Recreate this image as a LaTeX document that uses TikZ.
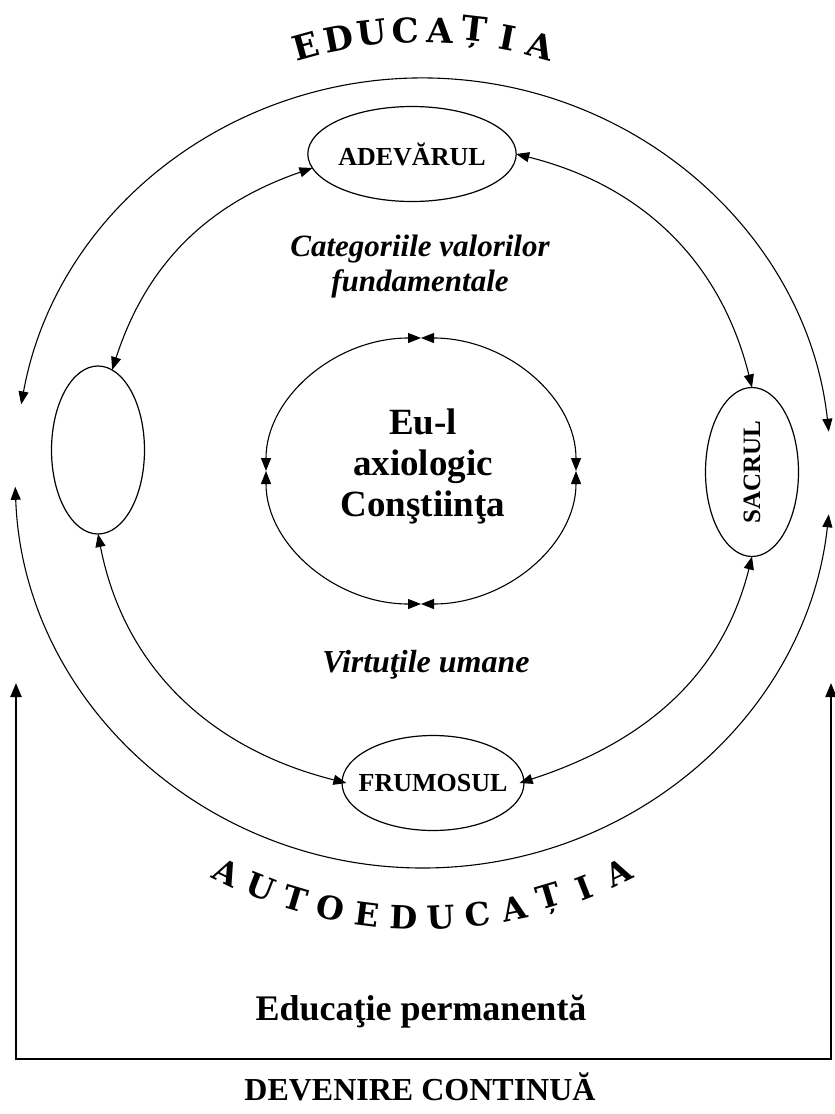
\documentclass[tikz,border=0pt]{standalone}
\usepackage{fontspec}
\setmainfont{Liberation Serif}
\newfontfamily\arcfont{DejaVu Serif}[BoldFont={DejaVu Serif Bold}]
\usepackage{tikz}
\usetikzlibrary{arrows.meta,shapes,calc,positioning}
\tikzset{
  valoare/.style={draw,ellipse,line width=1.2pt,inner sep=0pt,outer sep=0pt},
  sageti/.style={line width=1.1pt,{Triangle[length=13pt,width=10pt]}-{Triangle[length=13pt,width=10pt]}},
  cadru/.style={line width=2.2pt,{Triangle[length=14pt,width=11pt]}-{Triangle[length=14pt,width=11pt]}},
  litera/.style={font=\arcfont\bfseries\fontsize{34}{34}\selectfont,inner sep=0pt},
  literajos/.style={font=\arcfont\bfseries\fontsize{32}{32}\selectfont,inner sep=0pt},
}

\begin{document}
\begin{tikzpicture}[x=1pt,y=1pt]
\useasboundingbox (0,0) rectangle (835,-1114);
\coordinate (c) at (423,-473);

% cele patru valori
\node[valoare,minimum width=190,minimum height=95,font=\bfseries\fontsize{26}{31}\selectfont] (adev) at (412,-154) {ADEVĂRUL};
\node[valoare,minimum width=93,minimum height=168] (stang) at (98,-450) {};
\node[valoare,minimum width=93,minimum height=169,font=\bfseries\fontsize{25}{30}\selectfont] (sacrul) at (752,-472) {\rotatebox{90}{SACRUL}};
\node[valoare,minimum width=182,minimum height=95] (frum) at (433,-783) {};
\node[fill=white,inner xsep=12pt,inner ysep=3pt,font=\bfseries\fontsize{26}{31}\selectfont] (frumtxt) at (frum) {FRUMOSUL};

% eul axiologic
\node[ellipse,minimum width=310,minimum height=266,inner sep=0pt,outer sep=0pt] (eu) at (421,-471) {};
\node[align=center,font=\bfseries\fontsize{37}{41}\selectfont] (eutxt) at (423,-466) {Eu-l\\axiologic\\Conştiinţa};
\foreach \a/\b in {east/0,north/90,west/180,south/270}
  \draw[sageti] (eu.\a) arc[start angle=\b,end angle=\b+90,x radius=155,y radius=133];

% legaturi intre valori
\draw[sageti] (adev.188) to[out=199,in=72] (stang.80);
\draw[sageti] (adev.east) to[out=-14,in=104] (sacrul.north);
\draw[sageti] (stang.south) to[out=281,in=166] (frumtxt.west);
\draw[sageti] (sacrul.south) to[out=256,in=18] (frumtxt.east);

% educatia si autoeducatia
\coordinate (eduS) at ($(c)+(170:408 and 395)$);
\draw[sageti] (eduS) arc[start angle=170,end angle=6,x radius=408,y radius=395];
\coordinate (autoS) at ($(c)+(182:408 and 395)$);
\draw[sageti] (autoS) arc[start angle=182,end angle=354,x radius=408,y radius=395];

\foreach \ch [count=\i] in {E,D,U,C,A,Ț,I,A}
  \node[litera,rotate={15.4-(\i-1)*4.4}] (edu\i) at ($(c)+({105.4-(\i-1)*4.4}:443)$) {\ch};
\foreach \ch [count=\i] in {A,U,T,O,E,D,U,C,A,Ț,I,A}
  \node[literajos,rotate={-26.2+(\i-1)*4.75}] (auto\i) at ($(c)+({243.8+(\i-1)*4.75}:445)$) {\ch};

% texte
\node[font=\bfseries\itshape\fontsize{31}{35}\selectfont,align=center] (categ) at (420,-267) {Categoriile valorilor\\fundamentale};
\node[font=\bfseries\itshape\fontsize{32}{36}\selectfont] (virt) at (426,-665) {Virtuţile umane};
\node[anchor=base,font=\bfseries\fontsize{36}{40}\selectfont] (perm) at (421,-1020) {Educaţie permanentă};
\node[anchor=base,font=\bfseries\fontsize{32}{36}\selectfont] (dev) at (420,-1100) {DEVENIRE CONTINUĂ};

% devenire continua
\coordinate (fsus) at (16,-683);
\coordinate (fjos) at (16,-1059);
\coordinate (djos) at (831,-1059);
\coordinate (dsus) at (831,-683);
\draw[cadru] (fsus) -- (fjos) -- (djos) -- (dsus);

\end{tikzpicture}
\end{document}
